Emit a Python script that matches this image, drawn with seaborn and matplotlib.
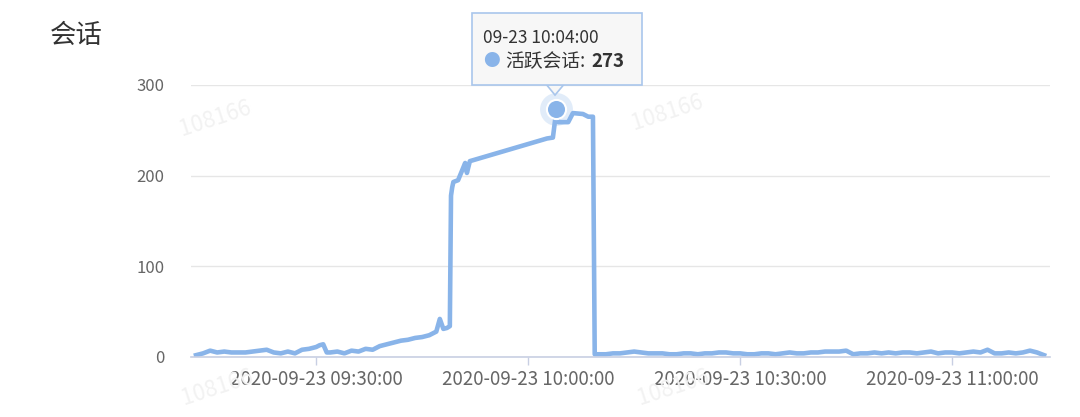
import pandas as pd
import matplotlib
matplotlib.use('Agg')
import matplotlib.pyplot as plt
import matplotlib.dates as mdates
import seaborn as sns

# Dados (hora, sessões ativas)
horas = [
    '09:13:00', '09:14:00', '09:15:00', '09:16:00', '09:17:00', '09:18:00', '09:19:00',
    '09:20:00', '09:21:00', '09:22:00', '09:23:00', '09:24:00', '09:25:00', '09:26:00',
    '09:27:00', '09:28:00', '09:29:00', '09:30:00', '09:30:30', '09:31:00', '09:31:30',
    '09:32:00', '09:33:00', '09:34:00', '09:35:00', '09:36:00', '09:37:00', '09:38:00',
    '09:39:00', '09:40:00', '09:41:00', '09:42:00', '09:43:00', '09:44:00', '09:45:00',
    '09:46:00', '09:47:00', '09:47:30', '09:48:00', '09:48:30', '09:48:55', '09:49:05',
    '09:49:15', '09:49:25', '09:50:05', '09:50:40', '09:51:05', '09:51:20', '09:51:45',
    '10:02:40', '10:03:30', '10:04:00', '10:04:15', '10:05:40', '10:06:20', '10:07:45',
    '10:08:30', '10:09:10', '10:09:25',
]
sessoes = [
    2, 4, 7, 5, 6, 5, 5,
    5, 6, 7, 8, 5, 4, 6,
    4, 8, 9, 11, 13, 14, 5,
    5, 6, 4, 7, 6, 9, 8,
    12, 14, 16, 18, 19, 21, 22,
    24, 28, 42, 31, 32, 34, 178,
    187, 193, 195, 206, 214, 203, 216,
    241, 242, 273, 259, 259, 269, 268,
    265, 265, 3,
]
# Depois da queda: um valor por minuto de 10:10 até 11:13
horas_depois = [f'{10 + m // 60}:{m % 60:02d}:00' for m in range(10, 74)]
sessoes_depois = [
    3, 3, 4, 4, 5, 6, 5, 4, 4, 4,
    3, 3, 4, 4, 3, 4, 4, 5, 5, 4,
    4, 3, 3, 4, 4, 3, 4, 5, 4, 4,
    5, 5, 6, 6, 6, 7, 3, 4, 4, 5,
    4, 5, 4, 5, 5, 4, 5, 6, 4, 5,
    5, 4, 5, 6, 5, 8, 4, 4, 5, 4,
    5, 7, 5, 2,
]
destaque_hora = '10:04:00'
destaque_valor = 273

df = pd.DataFrame({'hora': horas + horas_depois, 'sessoes': sessoes + sessoes_depois})
df['hora'] = pd.to_datetime('2020-09-23 ' + df['hora'])

plt.rcParams['font.family'] = ['Noto Sans CJK SC', 'DejaVu Sans']
cor = '#89b4e9'

fig = plt.figure(figsize=(10.8, 4.17), dpi=100)
ax = fig.add_axes([0.1769, 0.1439, 0.7953, 0.6523])

sns.lineplot(data=df, x='hora', y='sessoes', color=cor, linewidth=3.3, ax=ax)

# ponto destacado
t = pd.Timestamp('2020-09-23 ' + destaque_hora)
ax.scatter([t], [destaque_valor], s=560, color=cor, alpha=0.25, zorder=4, linewidths=0)
ax.scatter([t], [destaque_valor], s=190, color=cor, edgecolors='white', linewidths=1.5, zorder=5)

ax.set_xlim(pd.Timestamp('2020-09-23 09:12:18'), pd.Timestamp('2020-09-23 11:13:50'))
ax.set_ylim(0, 300)
ax.set_yticks([0, 100, 200, 300])
ax.xaxis.set_major_locator(mdates.MinuteLocator(byminute=[0, 30]))
ax.xaxis.set_major_formatter(mdates.DateFormatter('%Y-%m-%d %H:%M:%S'))
ax.set_xlabel('')
ax.set_ylabel('')

for s in ['top', 'right', 'left']:
    ax.spines[s].set_visible(False)
ax.spines['bottom'].set_color('#c8cfe3')
ax.spines['bottom'].set_linewidth(1.2)
ax.grid(axis='y', color='#e6e6e6', linewidth=1)
ax.set_axisbelow(True)
ax.tick_params(axis='x', length=6, width=1, color='#c8cfe3', labelsize=13.5, labelcolor='#666666', pad=3)
ax.tick_params(axis='y', length=0, labelsize=12, labelcolor='#666666', pad=19)

# título
fig.text(0.046, 0.915, '会话', fontsize=19, color='#333333', va='center', ha='left')

# marcas d'água
for x, y in [(0.163, 0.675), (0.582, 0.69), (0.165, 0.03), (0.587, 0.03)]:
    fig.text(x, y, '108166', fontsize=16, color='#f2f2f2', rotation=18, zorder=0)

# tooltip
fig.patches.append(plt.Polygon([(0.506, 0.797), (0.5139, 0.772), (0.522, 0.797)], closed=True,
                                transform=fig.transFigure, facecolor='#f7f7f7', edgecolor='#a9c6ec',
                                linewidth=1.2, zorder=9))
fig.patches.append(plt.Rectangle((0.437, 0.796), 0.157, 0.172, transform=fig.transFigure,
                                 facecolor='#f7f7f7', edgecolor='#a9c6ec', linewidth=1.2, zorder=10))
fig.text(0.447, 0.91, '09-23 10:04:00', fontsize=12.5, color='#333333', va='center', zorder=11)
fig.text(0.455, 0.853, '●', fontsize=12, color=cor, va='center', ha='center', zorder=11)
fig.text(0.468, 0.853, '活跃会话:', fontsize=13.5, color='#333333', va='center', zorder=11)
fig.text(0.548, 0.853, str(destaque_valor), fontsize=13.5, color='#333333', fontweight='bold', va='center', zorder=11)

fig.savefig('out.png', dpi=100)
